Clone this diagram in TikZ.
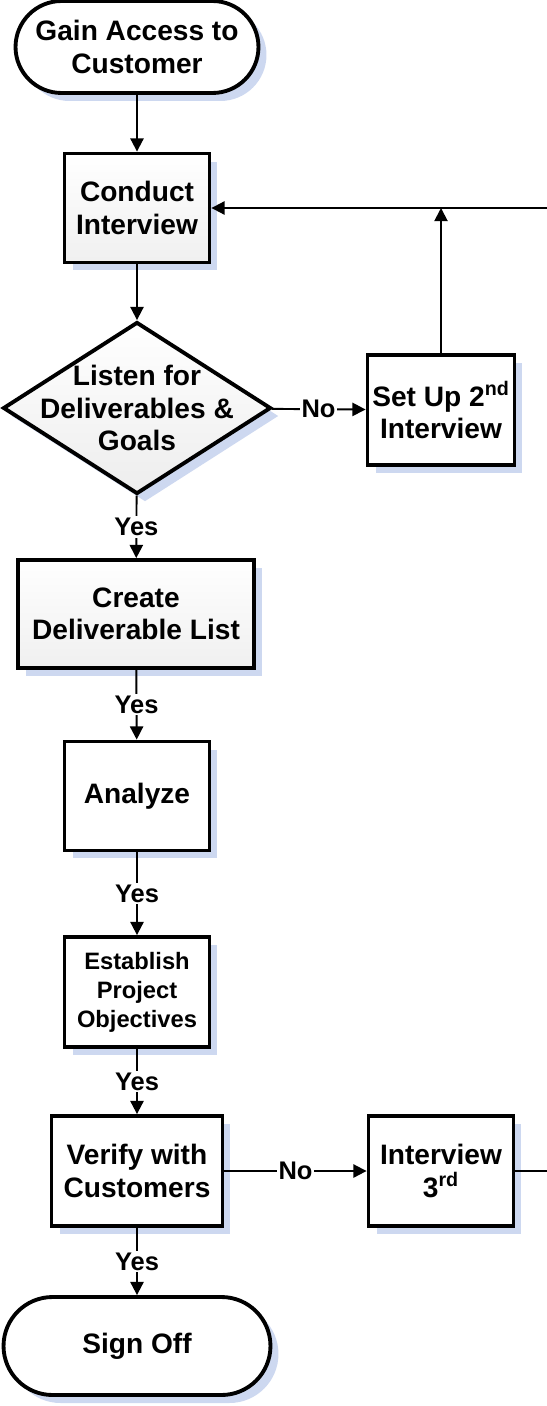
\documentclass[tikz,border=0pt]{standalone}
\usepackage{fontspec}
\setmainfont{Liberation Sans}
\usepackage{xcolor}
\usepackage{tikz}
\usetikzlibrary{shapes,arrows.meta,shadows,positioning}
\tikzset{>={Triangle[length=7.5pt,width=7.5pt]}}
\definecolor{shadowblue}{RGB}{200,212,238}
\newcommand{\flowfont}{\bfseries\fontsize{16}{18.5}\selectfont}
\newcommand{\smallflow}{\bfseries\fontsize{13.5}{16.5}\selectfont}

\begin{document}
\begin{tikzpicture}[x=0.02cm, y=-0.02cm,
              box/.style={draw, line width=2.2pt, fill=white, align=center, inner sep=2pt, font=\flowfont,
                          drop shadow={shadow xshift=0.16cm, shadow yshift=-0.16cm, fill=shadowblue, opacity=0.9}},
              term/.style={box, rounded corners=#1},
              proc/.style={box, minimum width=2.9cm, minimum height=2.18cm},
              greyproc/.style={proc, top color=white, bottom color=black!6},
              decis/.style={box, diamond, top color=white, bottom color=black!7, inner sep=0pt,
                            minimum width=5.36cm, minimum height=3.44cm},
              flow/.style={line width=1.1pt, ->},
              lbl/.style={fill=white, inner sep=1pt, font=\bfseries\fontsize{14.5}{16}\selectfont},
             ]
\useasboundingbox (0,0) rectangle (547,1406);
\coordinate (edgetop) at (547,208);
\coordinate (edgebot) at (547,1171);

\node[term=0.92cm, minimum width=4.86cm, minimum height=1.84cm] (start) at (137,47) {Gain Access to\\Customer};
\node[greyproc] (conduct) at (137,208) {Conduct\\Interview};
\node[decis, label={[font=\flowfont, align=center]center:Listen for\\Deliverables \&\\Goals}] (listen) at (137,408) {};
\node[proc, minimum width=2.94cm, minimum height=2.2cm] (setup) at (441,410) {Set Up 2\textsuperscript{nd}\\Interview};
\node[greyproc, minimum width=4.72cm, minimum height=2.16cm] (create) at (136,614) {Create\\Deliverable List};
\node[proc] (analyze) at (137,796) {Analyze};
\node[proc, font=\smallflow, minimum height=2.2cm] (establish) at (137,992) {Establish\\Project\\Objectives};
\node[proc, minimum width=3.42cm, minimum height=2.2cm] (verify) at (137,1171) {Verify with\\Customers};
\node[proc, minimum height=2.2cm] (third) at (441,1171) {Interview\\3\textsuperscript{rd}};
\node[term=0.98cm, minimum width=5.34cm, minimum height=1.96cm] (signoff) at (137,1346) {Sign Off};

\draw[flow] (start) -- (conduct);
\draw[flow] (conduct) -- (listen);
\draw[flow] (listen) -- node[lbl]{No} (setup);
\draw[flow] (setup) -- (setup |- conduct);
\draw[flow] (edgetop) -- (conduct);
\draw[flow] (listen) -- node[lbl]{Yes} (create);
\draw[flow] (create) -- node[lbl]{Yes} (analyze);
\draw[flow] (analyze) -- node[lbl]{Yes} (establish);
\draw[flow] (establish) -- node[lbl]{Yes} (verify);
\draw[flow] (verify) -- node[lbl]{No} (third);
\draw[line width=1.1pt] (third) -- (edgebot);
\draw[flow] (verify) -- node[lbl]{Yes} (signoff);
\end{tikzpicture}
\end{document}
